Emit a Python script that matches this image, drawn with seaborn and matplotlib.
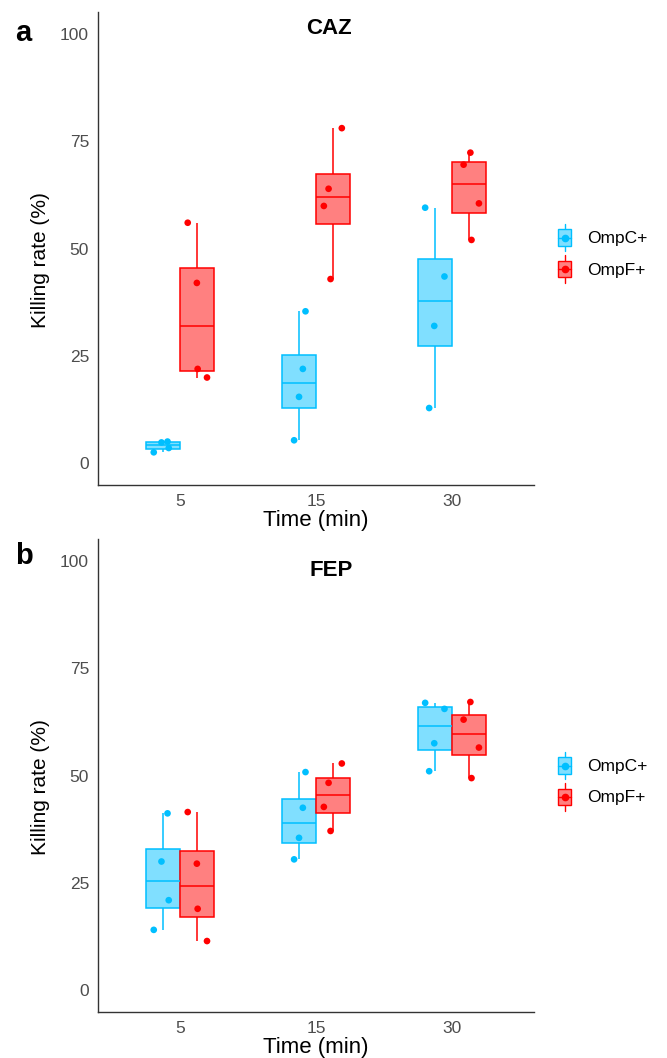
import numpy as np
import pandas as pd
import seaborn as sns
import matplotlib.pyplot as plt
from matplotlib.legend_handler import HandlerBase
from matplotlib.patches import Patch, Rectangle
from matplotlib.lines import Line2D

times = ["5", "15", "30"]
groups = ["OmpC+", "OmpF+"]

# killing rate (%) per time point, 4 replicates each
caz_ompc = [[2.6, 3.6, 4.9, 5.1], [5.4, 15.5, 22.0, 35.4], [12.9, 32.0, 43.5, 59.5]]
caz_ompf = [[20.0, 22.0, 42.0, 56.0], [42.9, 59.9, 63.9, 78.0], [52.0, 60.5, 69.5, 72.3]]
fep_ompc = [[14.1, 21.0, 30.0, 41.2], [30.5, 35.5, 42.5, 50.8], [51.0, 57.5, 65.5, 66.9]]
fep_ompf = [[11.5, 19.0, 29.5, 41.5], [37.1, 42.7, 48.3, 52.8], [49.4, 56.5, 63.0, 67.1]]

line_colors = {"OmpC+": "#00BFFF", "OmpF+": "#FF0000"}
fill_colors = {"OmpC+": "#80DFFF", "OmpF+": "#FF8080"}

sns.set_style("white")
plt.rcParams['font.family'] = ['Liberation Sans', 'DejaVu Sans']
plt.rcParams['text.color'] = 'black'
plt.rcParams['axes.labelcolor'] = 'black'


def make_df(ompc, ompf):
    rows = []
    for g, vals in zip(groups, [ompc, ompf]):
        for t, v in zip(times, vals):
            for y in v:
                rows.append((t, g, y))
    return pd.DataFrame(rows, columns=['time', 'group', 'rate'])


class BoxHandler(HandlerBase):
    # little boxplot glyph for the legend keys
    def create_artists(self, legend, orig_handle, xdescent, ydescent,
                       width, height, fontsize, trans):
        fc = orig_handle.get_facecolor()
        ec = orig_handle.get_edgecolor()
        cx = -xdescent + width / 2
        cy = -ydescent + height / 2
        bw, bh = 10, 12
        whisk = Line2D([cx, cx], [cy - 10, cy + 10], color=ec, lw=1.0, transform=trans)
        box = Rectangle((cx - bw / 2, cy - bh / 2), bw, bh, facecolor=fc,
                        edgecolor=ec, lw=1.0, transform=trans)
        med = Line2D([cx - bw / 2, cx + bw / 2], [cy, cy], color=ec, lw=1.0, transform=trans)
        dot = Line2D([cx], [cy], marker='o', ms=4.5, color=ec, lw=0, transform=trans)
        return [whisk, box, med, dot]


def draw(ax, df, title, title_x, title_y, legend_y):
    for g in groups:
        sub = df[df.group == g]
        sns.boxplot(data=sub, x='time', y='rate', hue='group', order=times,
                    hue_order=groups, palette=fill_colors, linecolor=line_colors[g],
                    linewidth=1.1, width=0.5, gap=0, dodge=True, showcaps=False,
                    showfliers=False, saturation=1, legend=False, ax=ax)
    n_before = len(ax.collections)
    np.random.seed(7)
    sns.stripplot(data=df, x='time', y='rate', hue='group', order=times,
                  hue_order=groups, palette=line_colors, dodge=True, jitter=0.25,
                  size=4.8, linewidth=0, legend=False, ax=ax)
    # pull the dodged points in to sit over the narrower boxes
    for coll in ax.collections[n_before:]:
        off = coll.get_offsets().copy()
        if len(off) == 0:
            continue
        center = np.round(off[:, 0])
        off[:, 0] = center + (off[:, 0] - center) * 0.625
        coll.set_offsets(off)

    ax.set_xlim(-0.6, 2.6)
    ax.set_ylim(-5, 105)
    ax.set_yticks([0, 25, 50, 75, 100])
    sns.despine(ax=ax)
    for s in ['left', 'bottom']:
        ax.spines[s].set_color('#333333')
        ax.spines[s].set_linewidth(1.0)
    ax.tick_params(length=3.5, color='#333333', labelsize=12.5,
                   labelcolor='#4D4D4D', width=0.9, pad=3)
    ax.set_xlabel('Time (min)', fontsize=16, labelpad=1)
    ax.set_ylabel('Killing rate (%)', fontsize=15)
    ax.yaxis.set_label_coords(-0.11, 0.475)
    ax.text(title_x, title_y, title, transform=ax.transAxes, ha='center',
            va='center', fontsize=16, fontweight='bold')

    handles = [Patch(facecolor=fill_colors[g], edgecolor=line_colors[g]) for g in groups]
    ax.legend(handles, groups, handler_map={Patch: BoxHandler()}, loc='center left',
              bbox_to_anchor=(1.037, legend_y), frameon=False, fontsize=12.5,
              handlelength=0.85, handleheight=1.75, handletextpad=0.9,
              labelspacing=0.42, borderaxespad=0)


fig = plt.figure(figsize=(6.67, 10.58), dpi=100)
ax_a = fig.add_axes([0.147, 0.5416, 0.6537, 0.447])
ax_b = fig.add_axes([0.147, 0.0435, 0.6537, 0.447])

draw(ax_a, make_df(caz_ompc, caz_ompf), 'CAZ', 0.53, 0.966, 0.49)
draw(ax_b, make_df(fep_ompc, fep_ompf), 'FEP', 0.534, 0.933, 0.488)

fig.text(23 / 667, 1 - 33 / 1058, 'a', fontsize=21, fontweight='bold', ha='center', va='center')
fig.text(24 / 667, 1 - 556 / 1058, 'b', fontsize=21, fontweight='bold', ha='center', va='center')

fig.savefig('out.png', dpi=100)
